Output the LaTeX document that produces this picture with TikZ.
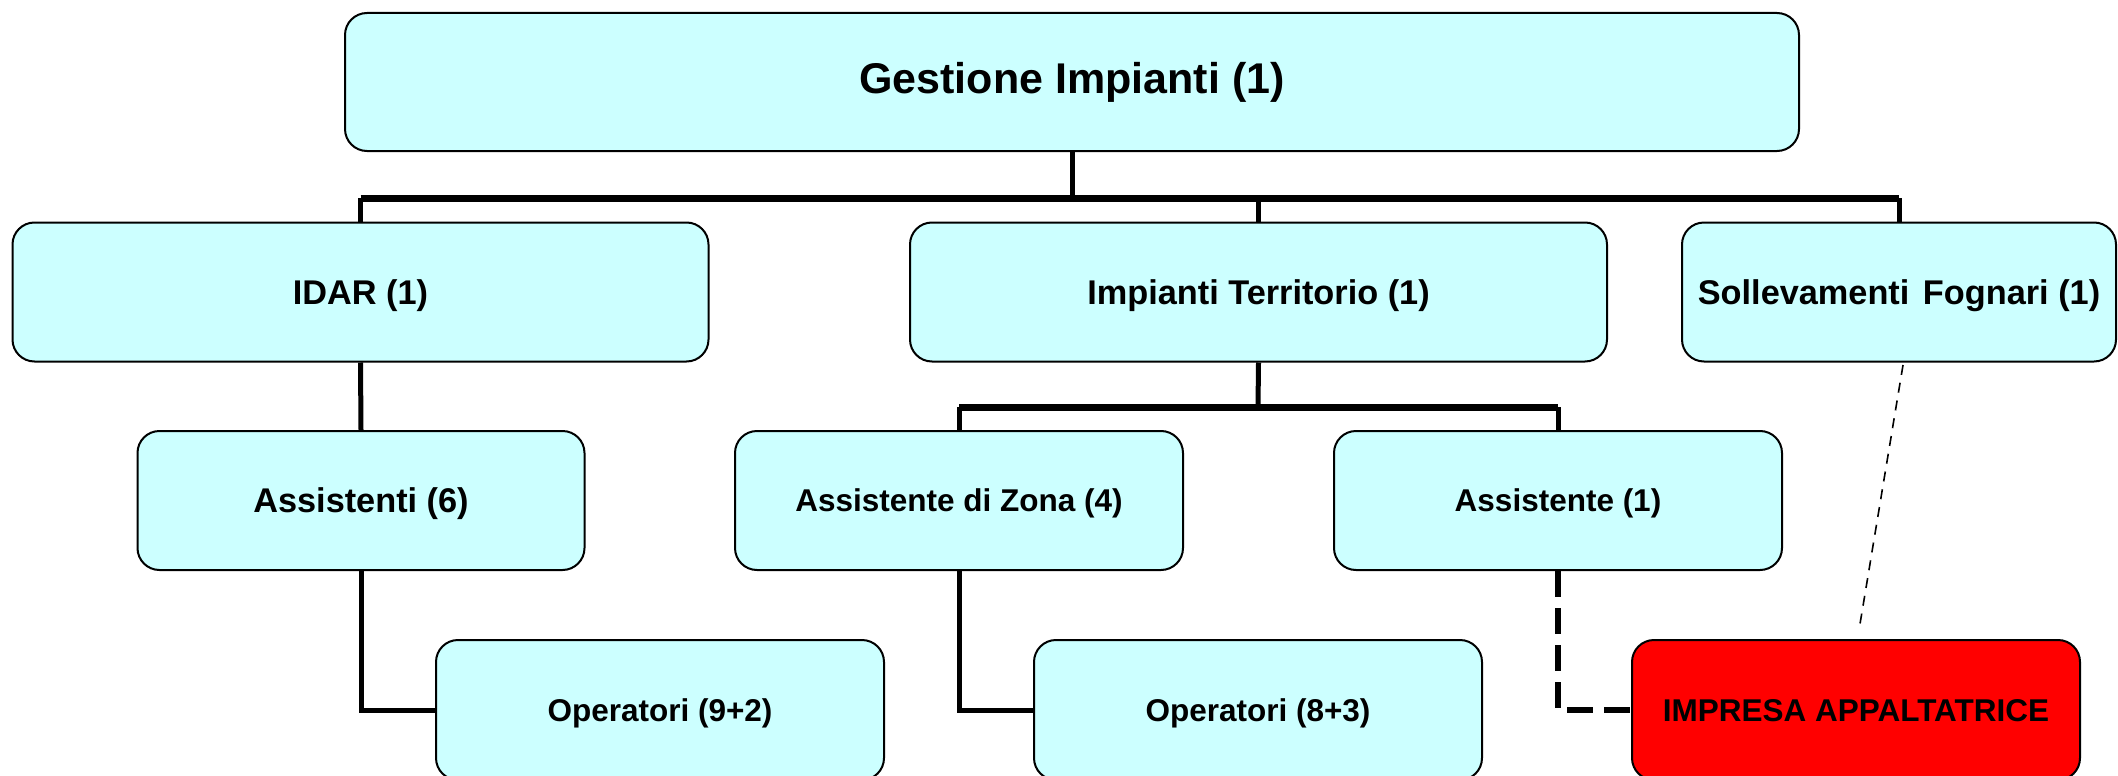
\documentclass[tikz,border=0pt]{standalone}
\usepackage{fontspec}
\setmainfont{Liberation Sans}
\definecolor{boxcyan}{HTML}{CCFFFF}
\definecolor{boxred}{HTML}{FF0000}
\tikzset{
  orgbox/.style={draw=black, line width=2pt, rounded corners=22pt, fill=boxcyan,
    minimum height=139pt, inner sep=0pt, align=center},
  fbig/.style={font=\bfseries\fontsize{43}{50}\selectfont},
  fmid/.style={font=\bfseries\fontsize{34.3}{40}\selectfont, text height=31.6pt, text depth=6.9pt},
  fsmall/.style={font=\bfseries\fontsize{31.5}{37}\selectfont, text height=29pt, text depth=6.3pt},
  bus/.style={line width=7pt},
  link/.style={line width=5pt},
  dashlink/.style={line width=5.5pt, dash pattern=on 26pt off 11pt},
  thindash/.style={line width=1.6pt, dash pattern=on 10pt off 8pt},
}
\begin{document}
\begin{tikzpicture}[x=1pt,y=-1pt]
\useasboundingbox (0,0) rectangle (2118,776);
\clip (0,0) rectangle (2118,776);
\coordinate (busA) at (1072,198);
\coordinate (busB) at (1258,407);
% nodes
\node[orgbox, fbig, minimum width=1454pt, minimum height=138pt] (top) at (1072,82) {Gestione Impianti (1)};
\node[orgbox, fmid, minimum width=696pt] (idar) at (360.5,292) {IDAR (1)};
\node[orgbox, fmid, minimum width=697pt] (it) at (1258.5,292) {Impianti Territorio (1)};
\node[orgbox, fmid, minimum width=434pt] (soll) at (1899,292) {Sollevamenti\hspace{4pt} Fognari (1)};
\node[orgbox, fmid, minimum width=447pt] (ass) at (361,500.5) {Assistenti (6)};
\node[orgbox, fsmall, minimum width=448pt] (az) at (959,500.5) {Assistente di Zona (4)};
\node[orgbox, fsmall, minimum width=448pt] (a1) at (1558,500.5) {Assistente (1)};
\node[orgbox, fsmall, minimum width=448pt, minimum height=140pt] (op1) at (660,710) {Operatori (9+2)};
\node[orgbox, fsmall, minimum width=448pt, minimum height=140pt] (op2) at (1258,710) {Operatori (8+3)};
\node[orgbox, fsmall, fill=boxred, minimum width=448pt, minimum height=140pt] (imp) at (1856,710) {IMPRESA APPALTATRICE};
% level 1 -> level 2
\draw[link] (top.south) -- (busA);
\draw[bus] (idar.north |- busA) -- (soll.north |- busA);
\draw[link] (idar.north |- busA) -- (idar.north);
\draw[link] (it.north |- busA) -- (it.north);
\draw[link] (soll.north |- busA) -- (soll.north);
% IDAR -> Assistenti
\draw[link] (idar.south) -- (ass.north);
% IT -> AZ, A1
\draw[link] (it.south) -- (busB);
\draw[bus] (az.north |- busB) -- (a1.north |- busB);
\draw[link] (az.north |- busB) -- (az.north);
\draw[link] (a1.north |- busB) -- (a1.north);
% to operators
\draw[link] (ass.south) |- (op1.west);
\draw[link] (az.south) |- (op2.west);
\draw[dashlink] (a1.south) |- (imp.west);
% thin dashed from Sollevamenti to Impresa
\coordinate (sd1) at (1903,365);
\coordinate (sd2) at (1859,630);
\draw[thindash] (sd1) -- (sd2);
\end{tikzpicture}
\end{document}
